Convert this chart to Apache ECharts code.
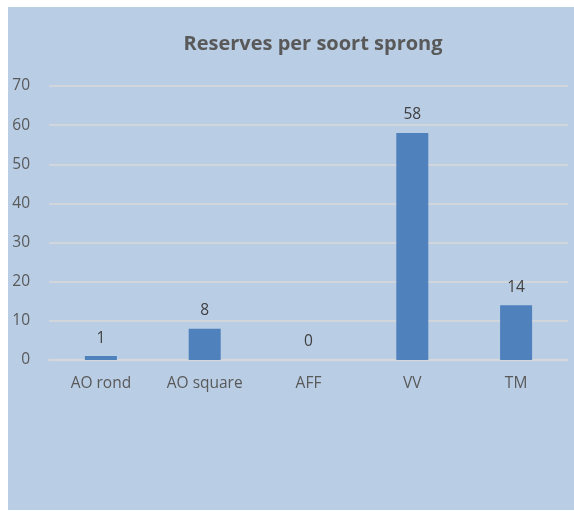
<!DOCTYPE html>
<html>
<head>
<meta charset="utf-8">
<script src="https://cdn.jsdelivr.net/npm/echarts@6/dist/echarts.min.js"></script>
<style>
	html, body { margin: 0; padding: 0; background: #fff; }
	#chart { position: absolute; left: 8px; top: 7px; width: 566px; height: 503px; }
</style>
</head>
<body>
<div id="chart"></div>
<script>
var categories = ['AO rond', 'AO square', 'AFF', 'VV', 'TM'];	// soort sprong
var reserves = [1, 8, 0, 58, 14];								// aantal reserves
var yTicks = { min: 0, max: 70, interval: 10 };

var font = '"Open Sans", "Noto Sans", sans-serif',
	textColor = '#595959';

var chart = echarts.init(document.getElementById('chart'));
chart.setOption({
	backgroundColor: '#b9cde5',
	animation: false,
	title: {
		text: 'Reserves per soort sprong',
		left: 300,
		top: 22,
		textAlign: 'center',
		textStyle: { fontFamily: font, fontSize: 20, fontWeight: 'bold', color: textColor }
	},
	grid: { left: 41, right: 6, top: 79, bottom: 150 },
	xAxis: {
		type: 'category',
		data: categories,
		axisLine: { show: true, lineStyle: { color: '#d9d9d9', width: 1.5 } },
		axisTick: { show: false },
		axisLabel: { fontFamily: font, fontSize: 15.5, color: textColor, margin: 16 }
	},
	yAxis: {
		type: 'value',
		min: yTicks.min,
		max: yTicks.max,
		interval: yTicks.interval,
		axisLine: { show: false },
		axisTick: { show: false },
		axisLabel: { fontFamily: font, fontSize: 15.5, color: textColor, margin: 19 },
		splitLine: { lineStyle: { color: '#d9d9d9', width: 1.5 } }
	},
	series: [{
		type: 'bar',
		data: reserves,
		barWidth: 32,
		itemStyle: { color: '#4f81bd' },
		label: { show: true, position: 'top', distance: 10, fontFamily: font, fontSize: 15.5, color: '#404040' }
	}]
});
</script>
</body>
</html>
